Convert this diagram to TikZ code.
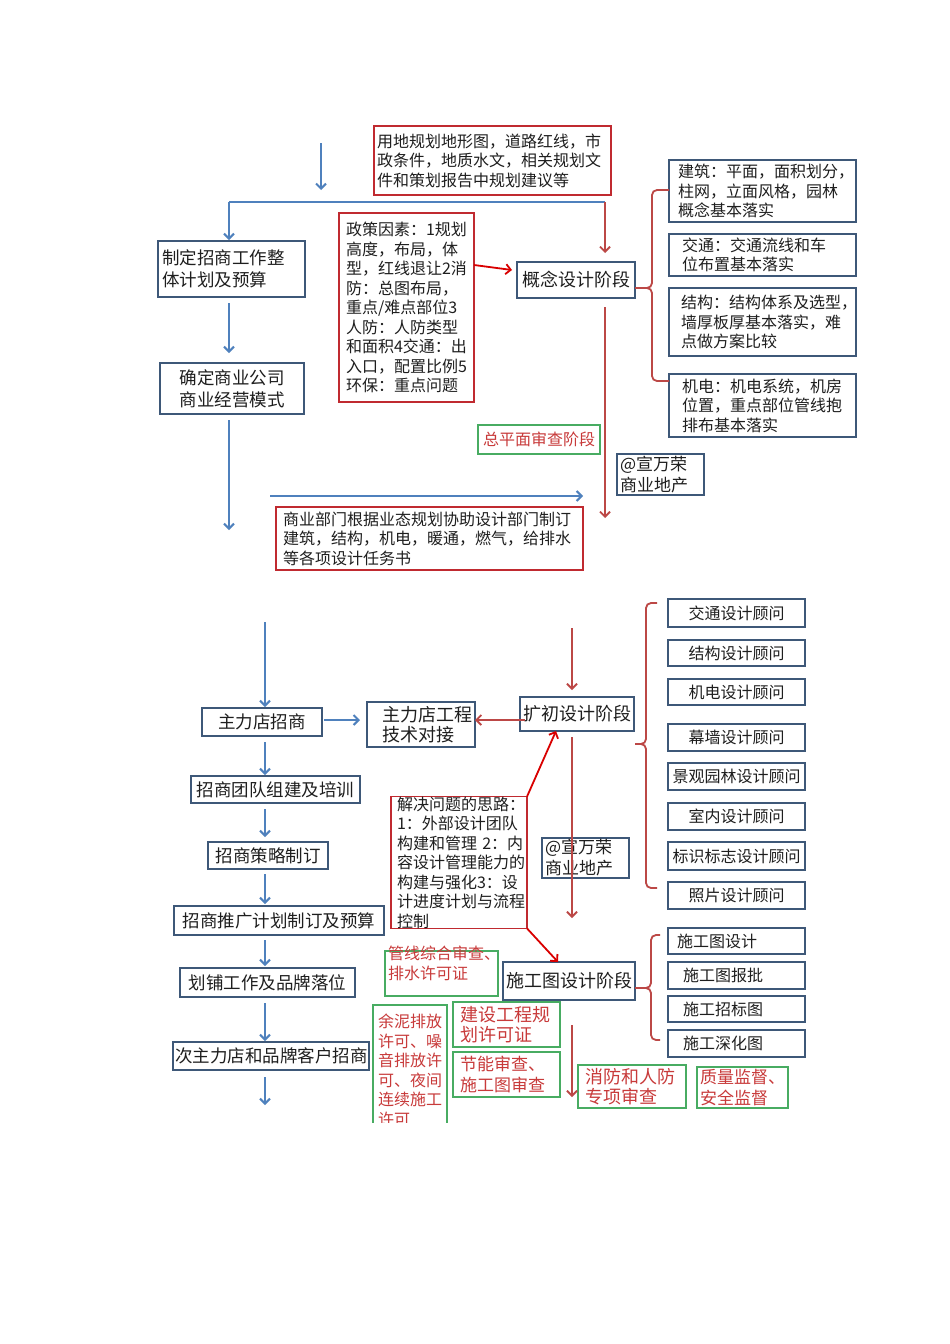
\documentclass[tikz,border=0pt]{standalone}
\usepackage{fontspec}
\setmainfont{Noto Sans CJK SC}
\usetikzlibrary{arrows.meta}
\definecolor{bluec}{RGB}{79,129,189}
\definecolor{boxc}{RGB}{62,88,120}
\definecolor{redc}{RGB}{192,42,48}
\definecolor{redarr}{RGB}{188,72,70}
\definecolor{greenc}{RGB}{72,172,98}
\definecolor{redtxt}{RGB}{200,58,58}
\definecolor{txt}{RGB}{30,30,30}
\newcommand\bx[8]{%
 \pgfmathsetmacro\bxw{#4-#2}%
 \pgfmathsetmacro\bxh{#5-#3}%
 \pgfmathsetmacro\bxt{#4-#2-2*#6}%
 \node[#7, minimum width=\bxw pt, minimum height=\bxh pt, text width=\bxt pt] (#1) at ({(#2+#4)/2},{(#3+#5)/2}) {#8};}
\tikzset{
 base/.style={inner sep=0pt, outer sep=0pt, text=txt, line width=1.5pt, align=left},
 bbox/.style={base, draw=boxc},
 rbox/.style={base, draw=redc},
 gbox/.style={base, draw=greenc, text=redtxt},
 ctr/.style={align=center},
 fs/.style={font=\fontsize{16}{19.5}\selectfont},
 fm/.style={font=\fontsize{17}{21}\selectfont},
 fl/.style={font=\fontsize{17.5}{22}\selectfont},
 fx/.style={font=\fontsize{18}{20.5}\selectfont},
 barr/.style={draw=bluec, line width=2pt, -{Straight Barb[length=5pt,width=10pt]}},
 bline/.style={draw=bluec, line width=2pt},
 rarr/.style={draw=redarr, line width=1.8pt, -{Straight Barb[length=5pt,width=10pt]}},
 brarr/.style={draw=red!85!black, line width=1.8pt, -{Straight Barb[length=5pt,width=10pt]}},
 brace/.style={draw=redarr, line width=1.8pt, rounded corners=5pt},
}
\begin{document}
\begin{tikzpicture}[x=1pt,y=-1pt]
\useasboundingbox (0,0) rectangle (950,1344);
\fill[white] (0,0) rectangle (950,1344);

% ---------- top section ----------
\bx{src}{374}{126}{611}{195}{3}{rbox,fs}{用地规划地形图，道路红线，市\\政条件，地质水文，相关规划文\\件和策划报告中规划建议等}
\bx{plan}{158}{241}{305}{297}{4}{bbox,fl}{制定招商工作整\\体计划及预算}
\bx{mode}{160}{363}{304}{414}{4}{bbox,fl,ctr}{确定商业公司\\商业经营模式}
\bx{policy}{339}{213}{474}{402}{7}{rbox,fs}{政策因素：1规划\\高度，布局，体\\型，红线退让2消\\防：总图布局，\\重点/难点部位3\\人防：人防类型\\和面积4交通：出\\入口，配置比例5\\环保：重点问题}
\bx{concept}{517}{262}{635}{298}{2}{bbox,fx,ctr}{概念设计阶段}
\bx{arch}{669}{160}{856}{222}{9}{bbox,fs}{建筑：平面，面积划分，\\柱网，立面风格，园林\\概念基本落实}
\bx{traffic}{669}{234}{856}{276}{13}{bbox,fs}{交通：交通流线和车\\位布置基本落实}
\bx{struct}{669}{288}{856}{356}{12}{bbox,fs}{结构：结构体系及选型，\\墙厚板厚基本落实，难\\点做方案比较}
\bx{mep}{669}{374}{856}{437}{13}{bbox,fs}{机电：机电系统，机房\\位置，重点部位管线抱\\排布基本落实}
\bx{review}{478}{425}{600}{454}{2}{gbox,fs,ctr}{总平面审查阶段}
\bx{wmA}{617}{454}{704}{495}{3}{bbox,fm}{@宣万荣\\商业地产}
\bx{task}{276}{507}{583}{570}{7}{rbox,fs}{商业部门根据业态规划协助设计部门制订\\建筑，结构，机电，暖通，燃气，给排水\\等各项设计任务书}

% top connectors
\coordinate (t0) at (321,143);
\coordinate (t1) at (321,190);
\coordinate (j1) at (229,202);
\coordinate (j2) at (605,202);
\coordinate (m1) at (229,530);
\coordinate (h1) at (270,496);
\coordinate (h2) at (583,496);
\coordinate (c1) at (605,518);
\draw[barr] (t0) -- (t1);
\draw[bline] (j2) -- (j1);
\draw[barr, shorten >=1pt] (j1) -- (plan.north -| j1);
\draw[rarr, shorten >=9pt] (j2) -- (concept.north -| j2);
\draw[barr, shorten <=6pt, shorten >=10pt] (plan.south -| j1) -- (mode.north -| j1);
\draw[barr, shorten <=6pt] (mode.south -| j1) -- (m1);
\draw[barr] (h1) -- (h2);
\draw[brarr] ([yshift=-52pt]policy.north east) -- ([xshift=-5pt,yshift=10pt]concept.west);
\draw[rarr, shorten <=9pt] (concept.south -| c1) -- (c1);
\coordinate (bA) at (652,288);
\draw[brace] (arch.west |- 0,190) -- (652,190) -- (bA) -- (646,288);
\draw[brace] (mep.west |- 0,381) -- (652,381) -- (bA) -- (646,288);
\draw[draw=redarr, line width=1.8pt] (646,288) -- (concept.east |- bA);

% ---------- bottom section ----------
\bx{anchor}{202}{708}{322}{736}{2}{bbox,fl,ctr}{主力店招商}
\bx{tech}{367}{702}{475}{747}{15}{bbox,fx}{主力店工程\\技术对接}
\bx{expand}{520}{697}{634}{731}{2}{bbox,fx,ctr}{扩初设计阶段}
\bx{k1}{668}{599}{805}{627}{2}{bbox,fs,ctr}{交通设计顾问}
\bx{k2}{668}{640}{805}{666}{2}{bbox,fs,ctr}{结构设计顾问}
\bx{k3}{668}{679}{805}{705}{2}{bbox,fs,ctr}{机电设计顾问}
\bx{k4}{668}{724}{805}{751}{2}{bbox,fs,ctr}{幕墙设计顾问}
\bx{k5}{668}{763}{805}{790}{2}{bbox,fs,ctr}{景观园林设计顾问}
\bx{k6}{668}{803}{805}{830}{2}{bbox,fs,ctr}{室内设计顾问}
\bx{k7}{668}{842}{805}{870}{2}{bbox,fs,ctr}{标识标志设计顾问}
\bx{k8}{668}{882}{805}{909}{2}{bbox,fs,ctr}{照片设计顾问}
\bx{wmB}{542}{838}{629}{878}{3}{bbox,fm}{@宣万荣\\商业地产}
\bx{solve}{391}{797}{527}{928}{6}{rbox,fs}{解决问题的思路：\\1：外部设计团队\\构建和管理~2：内\\容设计管理能力的\\构建与强化3：设\\计进度计划与流程\\控制}
\bx{cd}{503}{962}{635}{1000}{2}{bbox,fx,ctr}{施工图设计阶段}
\bx{d1}{668}{928}{805}{954}{9}{bbox,fs}{施工图设计}
\bx{d2}{668}{962}{805}{989}{15}{bbox,fs}{施工图报批}
\bx{d3}{668}{996}{805}{1022}{15}{bbox,fs}{施工招标图}
\bx{d4}{668}{1030}{805}{1057}{15}{bbox,fs}{施工深化图}
\bx{pipe}{385}{951}{498}{996}{3}{gbox}{}
\node[anchor=north west, inner sep=0pt, text=redtxt, fs, align=left] (pipetxt) at ([xshift=3pt,yshift=5pt]pipe.north west) {管线综合审查、\\排水许可证};
\bx{permit}{453}{1002}{560}{1047}{7}{gbox,fx}{建设工程规\\划许可证}
\bx{energy}{453}{1052}{560}{1097}{7}{gbox,fm}{节能审查、\\施工图审查}
\bx{fire}{578}{1065}{686}{1108}{7}{gbox,fx}{消防和人防\\专项审查}
\bx{quality}{697}{1067}{788}{1108}{3}{gbox,fm}{质量监督、\\安全监督}
\begin{scope}
\clip (0,0) rectangle (950,1122);
\bx{mud}{373}{1005}{447}{1136}{5}{gbox,fs}{余泥排放\\许可、噪\\音排放许\\可、夜间\\连续施工\\许可}
\end{scope}

\bx{team}{191}{776}{360}{803}{2}{bbox,fl,ctr}{招商团队组建及培训}
\bx{strat}{208}{842}{328}{869}{2}{bbox,fl,ctr}{招商策略制订}
\bx{promo}{174}{906}{384}{935}{2}{bbox,fl,ctr}{招商推广计划制订及预算}
\bx{shops}{180}{968}{355}{997}{2}{bbox,fl,ctr}{划铺工作及品牌落位}
\bx{sub}{173}{1042}{369}{1070}{2}{bbox,fl,ctr}{次主力店和品牌客户招商}

% bottom connectors
\coordinate (lx) at (265,622);
\coordinate (lz) at (265,1105);
\draw[barr, shorten >=1pt] (lx) -- (anchor.north -| lx);
\draw[barr, shorten <=6pt, shorten >=1pt] (anchor.south -| lx) -- (team.north -| lx);
\draw[barr, shorten <=6pt, shorten >=5pt] (team.south -| lx) -- (strat.north -| lx);
\draw[barr, shorten <=5pt, shorten >=2pt] (strat.south -| lx) -- (promo.north -| lx);
\draw[barr, shorten <=5pt, shorten >=2pt] (promo.south -| lx) -- (shops.north -| lx);
\draw[barr, shorten <=6pt, shorten >=1pt] (shops.south -| lx) -- (sub.north -| lx);
\draw[barr, shorten <=7pt] (sub.south -| lx) -- (lz);
\draw[barr, shorten <=2pt, shorten >=7pt] ([yshift=2pt]anchor.east) -- ([yshift=4.5pt]tech.west);
\draw[rarr, shorten <=-5pt] ([yshift=-6pt]expand.west) -- ([yshift=4.5pt]tech.east);
\coordinate (e0) at (572,628);
\coordinate (e1) at (572,918);
\draw[rarr, shorten >=7pt] (e0) -- (expand.north -| e0);
\draw[rarr, shorten <=6pt] (expand.south -| e0) -- (e1);
\draw[brarr] (solve.north east) -- ([xshift=36pt]expand.south west);
\draw[brarr] (solve.south east) -- ([xshift=55pt]cd.north west);
\coordinate (f0) at (572,1025);
\coordinate (f1) at (572,1097);
\draw[rarr] (f0) -- (f1);
% braces
\coordinate (bB) at (646,744);
\coordinate (bBt) at (635,744);
\draw[brace] (657,603) -- (646,603) -- (bB) -- (640,744);
\draw[brace] (657,888) -- (646,888) -- (bB) -- (640,744);
\draw[draw=redarr, line width=1.8pt] (640,744) -- (bBt);
\coordinate (bC) at (651,988);
\draw[brace] (660,935) -- (651,935) -- (bC) -- (644,988);
\draw[brace] (660,1040) -- (651,1040) -- (bC) -- (644,988);
\draw[draw=redarr, line width=1.8pt] (644,988) -- (cd.east |- bC);
\end{tikzpicture}
\end{document}
